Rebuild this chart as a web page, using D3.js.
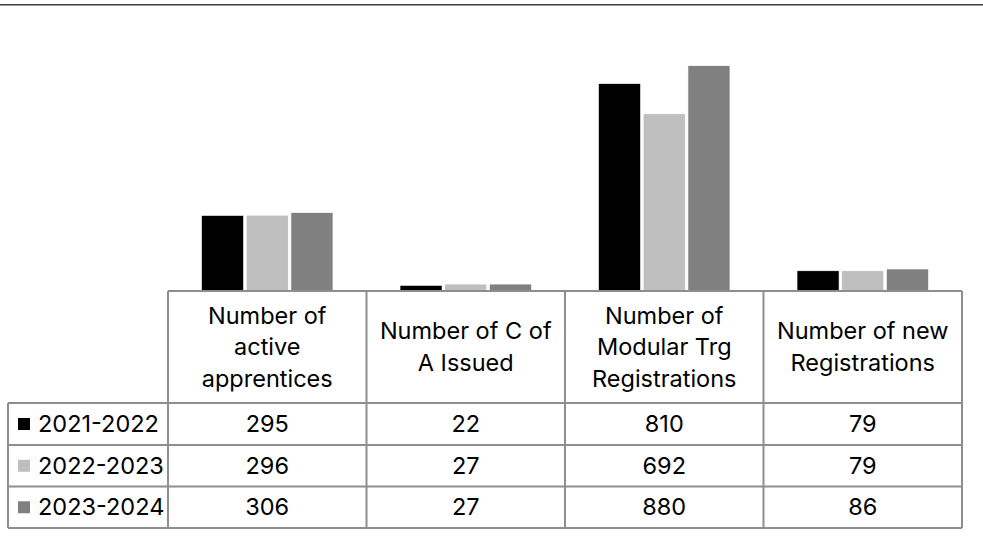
<!DOCTYPE html>
<html><head><meta charset="utf-8">
<script src="https://cdn.jsdelivr.net/npm/d3@7"></script>
<style>html,body{margin:0;padding:0;background:#fff;}svg{display:block;}</style>
</head><body>
<svg id="chart" width="983" height="539"></svg>
<script>
const categories = ["Number of active apprentices","Number of C of A Issued","Number of Modular Trg Registrations","Number of new Registrations"];
const categoryLines = [["Number of","active","apprentices"],["Number of C of","A Issued"],["Number of","Modular Trg","Registrations"],["Number of new","Registrations"]];
const seriesNames = ["2021-2022","2022-2023","2023-2024"];
const values2122 = [295,22,810,79];
const values2223 = [296,27,692,79];
const values2324 = [306,27,880,86];
const seriesValues = [values2122, values2223, values2324];
const colors = ["#000000","#bfbfbf","#808080"];

const svg = d3.select("#chart");
const font = "Inter, 'Open Sans', sans-serif";
const fs = 23.5;
const grid = "#8e8e8e";

// top border
svg.append("rect").attr("x",0).attr("y",4).attr("width",983).attr("height",1).attr("fill","#404040");
svg.append("rect").attr("x",0).attr("y",5).attr("width",983).attr("height",1).attr("fill","#9a9a9a");

const plotL = 168, plotR = 962, base = 291;
const x0 = d3.scaleBand().domain(categories).range([plotL, plotR]).padding(0);
const x1 = d3.scaleBand().domain(seriesNames).range([0, x0.bandwidth()]).paddingInner(0.06).paddingOuter(0.75);
const y = d3.scaleLinear().domain([0,1000]).range([base, 35]);

const groups = svg.append("g").selectAll("g").data(categories).join("g")
  .attr("transform", d => `translate(${x0(d)},0)`);
groups.selectAll("rect").data((c,i) => seriesNames.map((s,j) => ({s, v: seriesValues[j][i], j})))
  .join("rect")
  .attr("x", d => x1(d.s))
  .attr("y", d => y(d.v))
  .attr("width", x1.bandwidth())
  .attr("height", d => base - y(d.v))
  .attr("fill", d => colors[d.j])
  .attr("stroke","#ffffff").attr("stroke-width",0.6);

// data table
const headBottom = 403;
const rowYs = [403, 445, 486.5, 528];
const tableLeft = 8;
const g = svg.append("g").attr("stroke", grid).attr("stroke-width", 2).attr("fill","none");
g.append("line").attr("x1", plotL).attr("x2", plotR).attr("y1", base).attr("y2", base);
const vx = categories.map(c => x0(c)).concat([plotR]);
vx.forEach(xv => g.append("line").attr("x1", xv).attr("x2", xv).attr("y1", base).attr("y2", rowYs[3]));
g.append("line").attr("x1", tableLeft).attr("x2", tableLeft).attr("y1", rowYs[0]).attr("y2", rowYs[3]);
rowYs.forEach(ry => g.append("line").attr("x1", tableLeft).attr("x2", plotR).attr("y1", ry).attr("y2", ry));

// header text
const lh = 31.5;
categories.forEach((c,i) => {
  const lines = categoryLines[i];
  const cx = x0(c) + x0.bandwidth()/2;
  const cy = (base + headBottom)/2;
  const t = svg.append("text").attr("font-family", font).attr("font-size", fs).attr("fill","#000").attr("text-anchor","middle");
  lines.forEach((ln,k) => {
    t.append("tspan").attr("x", cx).attr("y", cy + 8 + (k - (lines.length-1)/2)*lh).text(ln);
  });
});

// rows
seriesNames.forEach((s,j) => {
  const cy = (rowYs[j] + rowYs[j+1])/2;
  svg.append("rect").attr("x", 18).attr("y", cy - 6).attr("width", 12).attr("height", 12).attr("fill", colors[j]);
  svg.append("text").attr("x", 38).attr("y", cy + 8).attr("font-family", font).attr("font-size", fs).attr("fill","#000").text(s);
  categories.forEach((c,i) => {
    svg.append("text").attr("x", x0(c) + x0.bandwidth()/2).attr("y", cy + 8)
      .attr("text-anchor","middle").attr("font-family", font).attr("font-size", fs).attr("fill","#000")
      .text(seriesValues[j][i]);
  });
});
</script>
</body></html>
